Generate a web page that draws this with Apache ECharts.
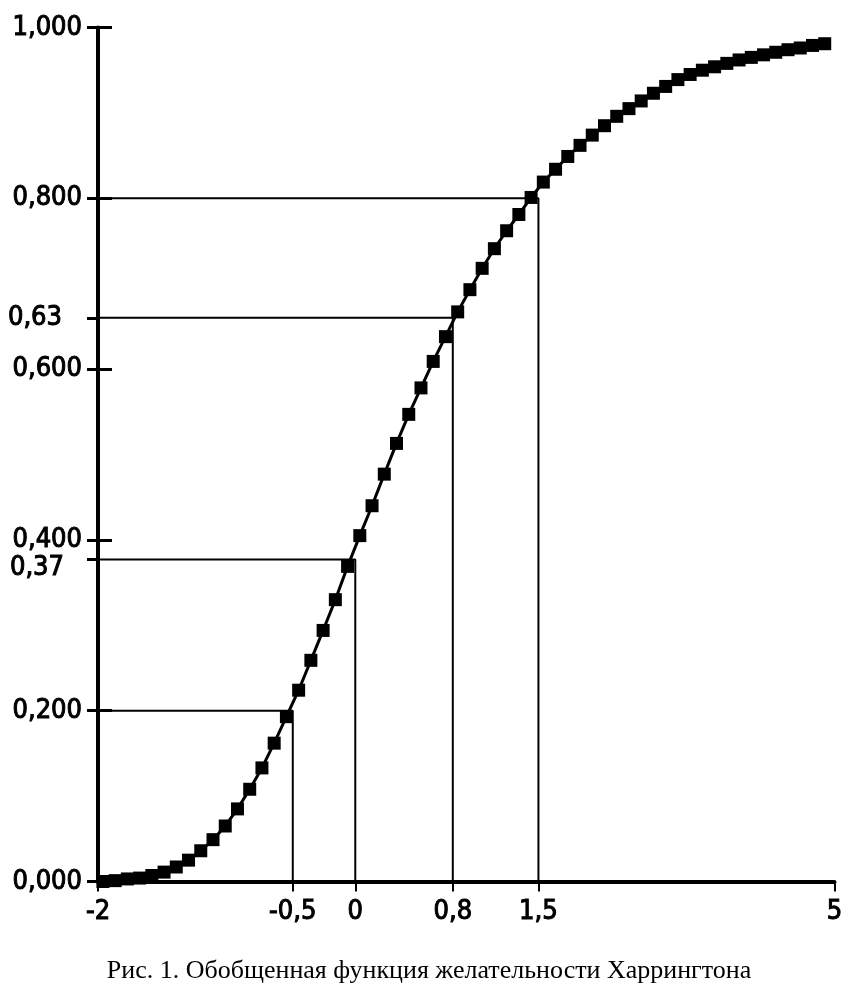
<!DOCTYPE html>
<html><head><meta charset="utf-8">
<script src="https://cdn.jsdelivr.net/npm/echarts@6/dist/echarts.min.js"></script>
<style>html,body{margin:0;padding:0;background:#fff}#c{width:858px;height:997px}</style>
</head><body><div id="c"></div>
<script>
// Harrington desirability values, one per plotted marker
const desirability = [
  0.000, 0.001, 0.003, 0.004, 0.007, 0.011, 0.017, 0.025, 0.036, 0.049,
  0.065, 0.085, 0.108, 0.133, 0.162, 0.193, 0.224, 0.259, 0.294, 0.330,
  0.369, 0.405, 0.440, 0.477, 0.513, 0.547, 0.578, 0.609, 0.638, 0.667,
  0.693, 0.718, 0.741, 0.762, 0.781, 0.801, 0.819, 0.834, 0.849, 0.862,
  0.874, 0.885, 0.896, 0.905, 0.914, 0.923, 0.931, 0.939, 0.945, 0.950,
  0.954, 0.958, 0.962, 0.965, 0.968, 0.971, 0.974, 0.976, 0.979, 0.981
];
// x tick positions (in marker-index units) and their labels
const xTickPos  = [-0.4, 15.52, 20.63, 28.6, 35.6, 59.8];
const xTickText = ['-2', '-0,5', '0', '0,8', '1,5', '5'];
// y tick positions and labels
const yTickPos  = [0, 0.2, 0.377, 0.4, 0.6, 0.66, 0.8, 1.0];
const yTickText = ['0,000', '0,200', '0,37', '0,400', '0,600', '0,63', '0,800', '1,000'];
const yMajor    = [0, 0.2, 0.4, 0.6, 0.8, 1.0];
// reference (drop) lines: x in index units, y in value units
const refX = [15.52, 20.63, 28.6, 35.6];
const refY = [0.2, 0.377, 0.66, 0.8];
const caption = 'Рис. 1. Обобщенная функция желательности Харрингтона';

const X_MIN = xTickPos[0], X_MAX = xTickPos[xTickPos.length - 1];
function lookup(pos, text, v) {
  for (let i = 0; i < pos.length; i++) if (Math.abs(pos[i] - v) < 1e-6) return text[i];
  return '';
}
const labelFont = '"DejaVu Sans Condensed", "DejaVu Sans", sans-serif';
const lblStyle = { fontFamily: labelFont, fontWeight: 'normal', fontSize: 27, color: '#000', textBorderColor: '#000', textBorderWidth: 1 };

const refSeries = refX.map((x, i) => ({
  type: 'line', symbol: 'none', silent: true, z: 1, animation: false,
  lineStyle: { color: '#000', width: 2 },
  data: [[X_MIN, refY[i]], [x, refY[i]], [x, 0]]
}));

const chart = echarts.init(document.getElementById('c'), null, { renderer: 'canvas' });
chart.setOption({
  backgroundColor: '#fff',
  animation: false,
  title: {
    text: caption, left: 'center', top: 953,
    textStyle: { fontFamily: '"Liberation Serif", "Times New Roman", serif', fontSize: 26, fontWeight: 'normal', color: '#000' }
  },
  grid: { left: 98, right: 23.5, top: 27.5, bottom: 115.5, containLabel: false, outerBoundsMode: 'none' },
  xAxis: {
    type: 'value', min: X_MIN, max: X_MAX,
    splitLine: { show: false },
    axisLine: { show: true, onZero: false, lineStyle: { color: '#000', width: 4 } },
    axisTick: { show: true, length: 10, customValues: xTickPos, lineStyle: { color: '#000', width: 2 } },
    axisLabel: Object.assign({
      customValues: xTickPos, margin: 17, hideOverlap: false, showMinLabel: true, showMaxLabel: true,
      formatter: v => lookup(xTickPos, xTickText, v)
    }, lblStyle)
  },
  yAxis: [{
    type: 'value', min: 0, max: 1,
    splitLine: { show: false },
    axisLine: { show: true, onZero: false, lineStyle: { color: '#000', width: 4 } },
    axisTick: { show: true, length: 11, customValues: yTickPos, lineStyle: { color: '#000', width: 3 } },
    axisLabel: Object.assign({
      customValues: yTickPos, margin: 16, hideOverlap: false, showMinLabel: true, showMaxLabel: true,
      formatter: v => {
        const t = lookup(yTickPos, yTickText, v);
        if (t === '0,63') return '{a|' + t + '}';
        if (t === '0,37') return '{b|' + t + '}';
        return t;
      },
      rich: {
        a: Object.assign({ padding: [0, 20, 0, 0] }, lblStyle),
        b: Object.assign({ padding: [16, 18, 0, 0] }, lblStyle)
      }
    }, lblStyle)
  }, {
    type: 'value', min: 0, max: 1, position: 'left',
    splitLine: { show: false },
    axisLine: { show: false, onZero: false },
    axisTick: { show: true, inside: true, length: 14, customValues: yMajor, lineStyle: { color: '#000', width: 3 } },
    axisLabel: { show: false }
  }],
  series: refSeries.concat([{
    type: 'line', z: 5,
    data: desirability.map((v, i) => [i, v]),
    symbol: 'rect', symbolSize: 13,
    itemStyle: { color: '#000' },
    lineStyle: { color: '#000', width: 3 }
  }])
});
</script></body></html>
